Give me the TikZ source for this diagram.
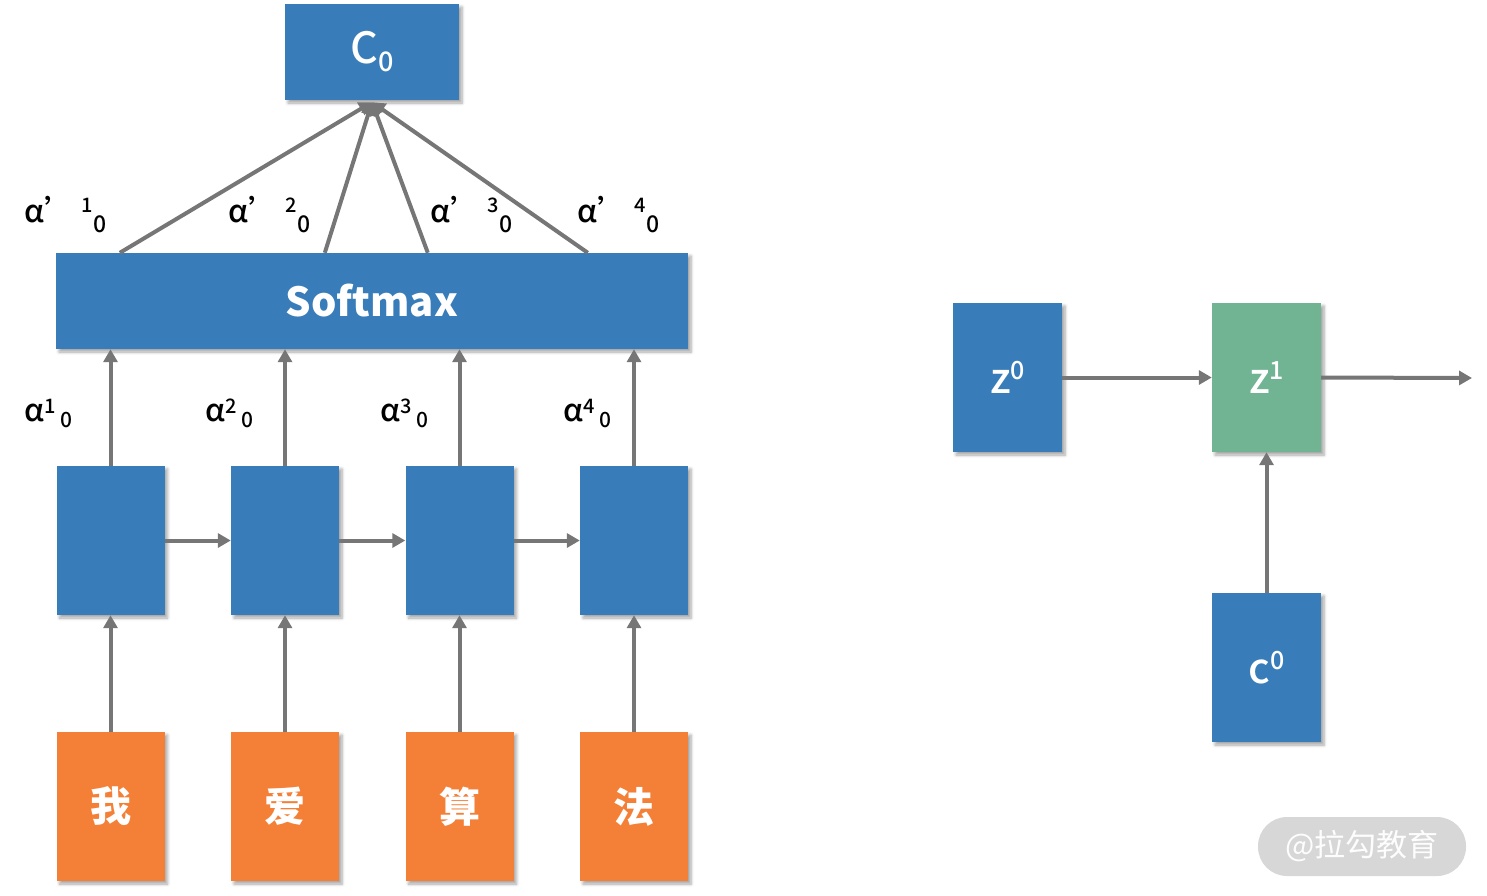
\documentclass[tikz,border=0pt]{standalone}
\usepackage{fontspec}
\setmainfont{Noto Sans CJK SC}
\newfontfamily\medfont{Noto Sans CJK SC}[UprightFont={* Medium}]
\usetikzlibrary{arrows.meta,calc,shadows.blur}
\definecolor{bblue}{RGB}{56,125,185}
\definecolor{borange}{RGB}{244,128,55}
\definecolor{bgreen}{RGB}{112,180,148}
\definecolor{agray}{RGB}{118,118,118}
\definecolor{wmgray}{RGB}{215,215,215}
\newcommand{\lowlab}[2]{α\raisebox{8pt}{\fontsize{20}{20}\selectfont #1}\hspace{5pt}\raisebox{-6pt}{\fontsize{21}{21}\selectfont #2}}
\newcommand{\uplab}[2]{α’\hspace{6pt}\raisebox{10pt}{\fontsize{20}{20}\selectfont #1}\hspace{1pt}\raisebox{-10pt}{\fontsize{23}{23}\selectfont #2}}
\tikzset{
  boxbase/.style={rectangle, inner sep=0pt, text=white,
    blur shadow={shadow xshift=3pt, shadow yshift=-3pt, shadow blur radius=3pt, shadow blur steps=6, shadow opacity=35}},
  cellbox/.style={boxbase, fill=bblue, minimum width=108pt, minimum height=149pt},
  wordbox/.style={boxbase, fill=borange, minimum width=108pt, minimum height=149pt, font=\fontsize{41}{41}\selectfont\bfseries},
  wideblue/.style={boxbase, fill=bblue, minimum height=96pt},
  zbox/.style={boxbase, minimum width=109pt, minimum height=149pt, font=\medfont\fontsize{42}{42}\selectfont},
  conn/.style={draw=agray, line width=4pt, -{Triangle[length=13pt,width=14pt]}},
  lab/.style={anchor=base west, inner sep=0pt, font=\medfont\fontsize{31}{31}\selectfont},
}
\begin{document}
\begin{tikzpicture}[x=1pt,y=-1pt]
\useasboundingbox (0,0) rectangle (1487,895);
% top
\node[wideblue, minimum width=174pt, font=\medfont\fontsize{43}{43}\selectfont] (c0) at (372,52) {C\raisebox{-8pt}{\fontsize{27}{27}\selectfont 0}};
\node[wideblue, minimum width=632pt, font=\fontsize{40}{40}\selectfont\bfseries] (soft) at (372,301) {Softmax};
% hidden cells
\node[cellbox] (h1) at (110.5,540.5) {};
\node[cellbox] (h2) at (285,540.5) {};
\node[cellbox] (h3) at (459.5,540.5) {};
\node[cellbox] (h4) at (634,540.5) {};
% words
\node[wordbox] (w1) at (110.5,806.5) {我};
\node[wordbox] (w2) at (285,806.5) {爱};
\node[wordbox] (w3) at (459.5,806.5) {算};
\node[wordbox] (w4) at (634,806.5) {法};
% right part
\node[zbox, fill=bblue] (z0) at (1007.5,377.5) {z\raisebox{14pt}{\fontsize{25}{25}\selectfont 0}};
\node[zbox, fill=bgreen] (z1) at (1266.5,377.5) {z\raisebox{14pt}{\fontsize{25}{25}\selectfont 1}};
\node[zbox, fill=bblue] (cc0) at (1266.5,667.5) {c\raisebox{14pt}{\fontsize{25}{25}\selectfont 0}};
\coordinate (zout) at (1472,378);
% connectors
\foreach \i in {1,2,3,4}{
  \draw[conn] (w\i.north) -- (h\i.south);
  \draw[conn] (h\i.north) -- (h\i.north |- soft.south);
}
\draw[conn] (h1.east) -- (h2.west);
\draw[conn] (h2.east) -- (h3.west);
\draw[conn] (h3.east) -- (h4.west);
\coordinate (ctop) at ($(c0.south)+(0,2)$);
\draw[conn] ($(soft.north west)+(64,0)$) -- (ctop);
\draw[conn] ($(soft.north west)+(269,0)$) -- (ctop);
\draw[conn] ($(soft.north west)+(372,0)$) -- (ctop);
\draw[conn] ($(soft.north west)+(532,0)$) -- (ctop);
\draw[conn] (z0.east) -- (z1.west);
\draw[conn] (z1.east) -- (zout);
\draw[conn] (cc0.north) -- (z1.south);
% labels
\node[lab] (u1) at (24,222) {\uplab{1}{0}};
\node[lab] (u2) at (228,222) {\uplab{2}{0}};
\node[lab] (u3) at (430,222) {\uplab{3}{0}};
\node[lab] (u4) at (577,222) {\uplab{4}{0}};
\node[lab] (l1) at (24,421) {\lowlab{1}{0}};
\node[lab] (l2) at (205,421) {\lowlab{2}{0}};
\node[lab] (l3) at (380,421) {\lowlab{3}{0}};
\node[lab] (l4) at (563,421) {\lowlab{4}{0}};
% watermark
\node[fill=wmgray, rounded corners=29pt, minimum width=208pt, minimum height=59pt, inner sep=0pt, text=white!94!wmgray, font=\fontsize{31}{31}\selectfont] (wm) at (1362,846.5) {@拉勾教育};
\end{tikzpicture}
\end{document}
